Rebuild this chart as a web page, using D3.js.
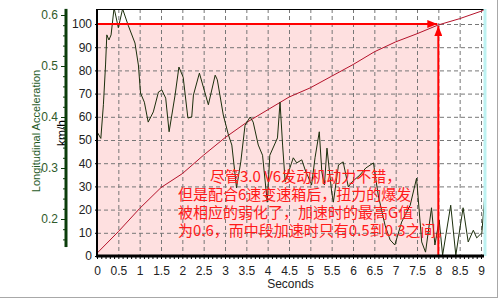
<!DOCTYPE html>
<html>
<head>
<meta charset="utf-8">
<script src="https://cdn.jsdelivr.net/npm/d3@7"></script>
<style>
  body { margin: 0; background: #fff; }
  svg { display: block; font-family: "Liberation Sans", Arial, sans-serif; }
</style>
</head>
<body>
<div class="chart"></div>
<script>
// speed trace, km/h
const speedTimes  = [0, 0.5, 1, 1.5, 2, 2.5, 3, 3.5, 4, 4.5, 5, 5.5, 6, 6.5, 7, 7.5, 8, 8.5, 9, 9.1];
const speedValues = [1.2, 10.5, 20.5, 29.5, 35.5, 43.5, 51, 57.5, 63, 68.5, 72.5, 77.5, 82.5, 88, 92.3, 95.8, 99.6, 102.3, 105.5, 106.2];

// longitudinal acceleration trace, g
const accelTimes = [0, 0.09, 0.15, 0.2, 0.23, 0.28, 0.33, 0.4, 0.5, 0.6, 0.73, 0.89, 0.97, 1.02, 1.11, 1.2, 1.32, 1.44, 1.52, 1.61,
  1.69, 1.83, 1.92, 2.02, 2.13, 2.22, 2.26, 2.4, 2.61, 2.77, 2.82, 2.96, 3.08, 3.16, 3.27, 3.37, 3.47, 3.59, 3.66, 3.78,
  3.88, 3.99, 4.05, 4.23, 4.29, 4.35, 4.41, 4.48, 4.6, 4.68, 4.8, 4.88, 5.03, 5.11, 5.21, 5.27, 5.33, 5.39, 5.5, 5.54,
  5.66, 5.77, 5.89, 5.98, 6.16, 6.3, 6.48, 6.59, 6.75, 6.87, 6.98, 7.14, 7.34, 7.49, 7.61, 7.7, 7.84, 7.92, 8.02, 8.1,
  8.29, 8.41, 8.58, 8.7, 8.82, 8.9, 9.02, 9.09];
const accelValues = [0.371, 0.358, 0.424, 0.502, 0.561, 0.551, 0.561, 0.614, 0.575, 0.612, 0.58, 0.545, 0.502, 0.447, 0.429, 0.39, 0.41, 0.449, 0.453, 0.437,
  0.371, 0.443, 0.498, 0.478, 0.398, 0.4, 0.443, 0.486, 0.424, 0.482, 0.473, 0.404, 0.365, 0.345, 0.261, 0.312, 0.384, 0.4, 0.39, 0.345,
  0.325, 0.233, 0.325, 0.359, 0.429, 0.345, 0.273, 0.29, 0.32, 0.31, 0.316, 0.296, 0.267, 0.32, 0.371, 0.292, 0.267, 0.339, 0.253, 0.233,
  0.306, 0.312, 0.263, 0.273, 0.286, 0.3, 0.31, 0.247, 0.188, 0.159, 0.149, 0.194, 0.227, 0.28, 0.155, 0.135, 0.222, 0.149, 0.198, 0.129,
  0.227, 0.129, 0.222, 0.155, 0.178, 0.163, 0.173, 0.247];

const timeTicks  = [0, 0.5, 1, 1.5, 2, 2.5, 3, 3.5, 4, 4.5, 5, 5.5, 6, 6.5, 7, 7.5, 8, 8.5, 9];
const speedTicks = [0, 10, 20, 30, 40, 50, 60, 70, 80, 90, 100];
const accelTicks = [0.2, 0.3, 0.4, 0.5, 0.6];

const targetSpeed = 100;
const targetTime = 8;

const noteLines = [
  '尽管3.0 V6发动机动力不错，',
  '但是配合6速变速箱后，扭力的爆发',
  '被相应的弱化了，加速时的最高G值',
  '为0.6，而中段加速时只有0.5到0.3之间。'
];

const width = 500, height = 300;
const plot = { left: 97, right: 484, top: 9, bottom: 256 };

const x = d3.scaleLinear().domain([0, 9]).range([97, 481]);
const ySpeed = d3.scaleLinear().domain([0, 100]).range([256, 24]);
const yAccel = d3.scaleLinear().domain([0.2, 0.6]).range([219, 15]);

const svg = d3.select('.chart')
  .append('svg')
  .attr('width', width)
  .attr('height', height);

svg.append('defs').append('clipPath')
  .attr('id', 'plot-clip')
  .append('rect')
  .attr('x', plot.left)
  .attr('y', plot.top)
  .attr('width', plot.right - plot.left)
  .attr('height', plot.bottom - plot.top);

const marker = svg.select('defs').append('marker')
  .attr('id', 'arrow')
  .attr('viewBox', '0 0 10 8')
  .attr('refX', 10)
  .attr('refY', 4)
  .attr('markerUnits', 'userSpaceOnUse')
  .attr('markerWidth', 11)
  .attr('markerHeight', 8)
  .attr('orient', 'auto');
marker.append('path').attr('d', 'M0,0L10,4L0,8Z').attr('fill', '#ff0000');

// outer frame
svg.append('line').attr('x1', 0).attr('x2', 498).attr('y1', 297.5).attr('y2', 297.5).attr('stroke', '#a8a8a8');
svg.append('line').attr('x1', 497.5).attr('x2', 497.5).attr('y1', 0).attr('y2', 298).attr('stroke', '#a8a8a8');

// pink target zone
svg.append('rect')
  .attr('x', x(0))
  .attr('y', ySpeed(targetSpeed))
  .attr('width', x(targetTime) - x(0))
  .attr('height', ySpeed(0) - ySpeed(targetSpeed))
  .attr('fill', '#fee0e0');

// dashed grid
const grid = svg.append('g').attr('stroke', '#777').attr('stroke-dasharray', '4,3');
grid.selectAll('.vg')
  .data(timeTicks.filter(t => t > 0))
  .join('line')
  .attr('x1', d => x(d) + 0.5)
  .attr('x2', d => x(d) + 0.5)
  .attr('y1', plot.top)
  .attr('y2', plot.bottom);
grid.selectAll('.hg')
  .data(speedTicks.filter(v => v > 0))
  .join('line')
  .attr('x1', plot.left)
  .attr('x2', plot.right)
  .attr('y1', d => ySpeed(d) + 0.5)
  .attr('y2', d => ySpeed(d) + 0.5);

const clipped = svg.append('g').attr('clip-path', 'url(#plot-clip)');

// speed curve
clipped.append('path')
  .datum(d3.zip(speedTimes, speedValues))
  .attr('fill', 'none')
  .attr('stroke', '#b5132b')
  .attr('stroke-width', 1)
  .attr('d', d3.line().x(d => x(d[0])).y(d => ySpeed(d[1])));

// acceleration trace
clipped.append('path')
  .datum(d3.zip(accelTimes, accelValues))
  .attr('fill', 'none')
  .attr('stroke', '#1c2f0c')
  .attr('stroke-width', 1)
  .attr('d', d3.line().x(d => x(d[0])).y(d => yAccel(d[1])));

// target arrows
svg.append('line')
  .attr('x1', x(0)).attr('x2', x(targetTime) - 1)
  .attr('y1', ySpeed(targetSpeed)).attr('y2', ySpeed(targetSpeed))
  .attr('stroke', '#ff0000').attr('stroke-width', 2)
  .attr('marker-end', 'url(#arrow)');
svg.append('line')
  .attr('x1', x(targetTime)).attr('x2', x(targetTime))
  .attr('y1', ySpeed(0)).attr('y2', ySpeed(targetSpeed) + 2)
  .attr('stroke', '#ff0000').attr('stroke-width', 2)
  .attr('marker-end', 'url(#arrow)');

// plot borders
svg.append('line').attr('x1', plot.left).attr('x2', plot.right).attr('y1', plot.top + 0.5).attr('y2', plot.top + 0.5).attr('stroke', '#000');
svg.append('line').attr('x1', plot.right + 1).attr('x2', plot.right + 1).attr('y1', plot.top).attr('y2', plot.bottom).attr('stroke', '#bdf2f2').attr('stroke-width', 3);
svg.append('line').attr('x1', plot.left).attr('x2', plot.left).attr('y1', plot.top).attr('y2', plot.bottom).attr('stroke', '#000').attr('stroke-width', 2);

// x axis
svg.append('g')
  .attr('transform', `translate(0,${plot.bottom})`)
  .call(d3.axisBottom(x).tickValues(d3.range(0, 9.05, 0.1)).tickSize(3).tickFormat(''))
  .call(g => g.select('.domain').remove())
  .call(g => g.selectAll('line').attr('stroke', '#000'));
svg.append('g')
  .attr('transform', `translate(0,${plot.bottom})`)
  .call(d3.axisBottom(x).tickValues(timeTicks).tickSize(0).tickPadding(10).tickFormat(d3.format('')))
  .call(g => g.select('.domain').remove())
  .call(g => g.selectAll('text').attr('fill', '#222').style('font-size', '12px').style('font-family', '"Liberation Sans", Arial, sans-serif'));
svg.append('line').attr('x1', plot.left - 1).attr('x2', plot.right).attr('y1', plot.bottom).attr('y2', plot.bottom).attr('stroke', '#000').attr('stroke-width', 3);

svg.append('text')
  .attr('x', (plot.left + plot.right) / 2)
  .attr('y', 288)
  .attr('text-anchor', 'middle')
  .attr('fill', '#222')
  .style('font-size', '12px')
  .text('Seconds');

// speed axis
svg.append('g')
  .attr('transform', `translate(${plot.left},0)`)
  .call(d3.axisLeft(ySpeed).tickValues(speedTicks).tickSize(2).tickPadding(3))
  .call(g => g.select('.domain').remove())
  .call(g => g.selectAll('text').attr('fill', '#222').style('font-size', '12px').style('font-family', '"Liberation Sans", Arial, sans-serif'));

svg.append('text')
  .attr('transform', 'translate(66,133) rotate(-90)')
  .attr('text-anchor', 'middle')
  .attr('fill', '#000')
  .style('font-size', '12px')
  .text('km/h');

// acceleration axis
const accelAxisX = 66;
svg.append('g')
  .attr('transform', `translate(${accelAxisX},0)`)
  .call(d3.axisLeft(yAccel).tickValues(d3.range(0.16, 0.61, 0.02)).tickSize(3).tickFormat(''))
  .call(g => g.select('.domain').remove())
  .call(g => g.selectAll('line').attr('stroke', '#0b3d0b'));
svg.append('g')
  .attr('transform', `translate(${accelAxisX},0)`)
  .call(d3.axisLeft(yAccel).tickValues(accelTicks).tickSize(5).tickPadding(3).tickFormat(d3.format('.1f')))
  .call(g => g.select('.domain').remove())
  .call(g => g.selectAll('line').attr('stroke', '#0b3d0b'))
  .call(g => g.selectAll('text').attr('fill', '#2f5a2a').style('font-size', '12px').style('font-family', '"Liberation Sans", Arial, sans-serif'));
svg.append('line')
  .attr('x1', accelAxisX).attr('x2', accelAxisX)
  .attr('y1', yAccel(0.612)).attr('y2', yAccel(0.145))
  .attr('stroke', '#0b3d0b').attr('stroke-width', 3);

svg.append('text')
  .attr('transform', 'translate(40,131) rotate(-90)')
  .attr('text-anchor', 'middle')
  .attr('fill', '#1f5a1f')
  .style('font-size', '11px')
  .text('Longitudinal Acceleration');

// annotation
svg.append('g')
  .selectAll('text')
  .data(noteLines)
  .join('text')
  .attr('x', (d, i) => i === 0 ? 210 : 178)
  .attr('y', (d, i) => 182 + i * 18)
  .attr('fill', '#ff1a1a')
  .style('font-family', '"Noto Sans CJK SC", sans-serif')
  .style('font-size', '15px')
  .text(d => d);
</script>
</body>
</html>
